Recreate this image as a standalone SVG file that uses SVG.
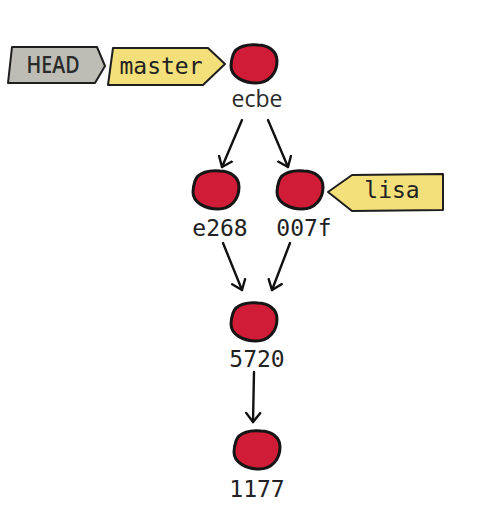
<svg xmlns="http://www.w3.org/2000/svg" xmlns:xlink="http://www.w3.org/1999/xlink" width="482" height="516" viewBox="0 0 482 516">
<style>
.blob{fill:#d01c36;stroke:#151515;stroke-width:3;stroke-linejoin:round}
.tag{stroke:#1e1e1e;stroke-width:2;stroke-linejoin:round}
.ref{fill:#f3e07a}
.head{fill:#bdbdb6}
.mono{font-family:"DejaVu Sans Mono","Liberation Mono",monospace;font-size:23px;fill:#222;text-anchor:middle}
.sans{font-family:"Open Sans","DejaVu Sans",sans-serif;font-size:23px;fill:#2a2a2a;text-anchor:middle}
.edge{fill:none;stroke:#111;stroke-width:2.4;stroke-linecap:round}
</style>
<defs>
<path id="blob" d="M -21,-9 C -18,-18 -6,-20 4,-19 C 14,-19 23,-13 23,-3 C 23,9 15,19 2,19 C -10,19 -23,13 -23,2 C -23,-3 -22,-6 -21,-9 Z"/>
<marker id="arr" markerWidth="20" markerHeight="20" refX="10" refY="10" orient="auto" markerUnits="userSpaceOnUse">
<path d="M1,3 L10,10 L1,17" fill="none" stroke="#111" stroke-width="2.4" stroke-linecap="round" stroke-linejoin="round"/>
</marker>
</defs>
<rect width="482" height="516" fill="#ffffff"/>
<g id="connectors">
<path class="edge" d="M242,120 L222,167" marker-end="url(#arr)"/>
<path class="edge" d="M268,120 L288,167" marker-end="url(#arr)"/>
<path class="edge" d="M223,243 L242,290" marker-end="url(#arr)"/>
<path class="edge" d="M290,243 L272,290" marker-end="url(#arr)"/>
<path class="edge" d="M254,372 L253,422" marker-end="url(#arr)"/>
</g>
<g id="HEAD">
<polygon class="tag head" points="12,47 97,47 105,66 95,83 8,83"/>
<text class="sans" x="53" y="73" font-weight="600" textLength="53" lengthAdjust="spacingAndGlyphs">HEAD</text>
</g>
<g id="master">
<polygon class="tag ref" points="113,48 208,48 225,64 203,85 108,85"/>
<text class="mono" x="161" y="74" font-size="22">master</text>
</g>
<g id="lisa">
<polygon class="tag ref" points="328,192 352,175 443,174 443,210 352,211"/>
<text class="mono" x="392" y="198">lisa</text>
</g>
<g id="ecbe">
<use xlink:href="#blob" href="#blob" class="blob" x="254" y="64"/>
<text class="sans" x="257" y="107">ecbe</text>
</g>
<g id="e268">
<use xlink:href="#blob" href="#blob" class="blob" x="216" y="190"/>
<text class="mono" x="220" y="236">e268</text>
</g>
<g id="n007f">
<use xlink:href="#blob" href="#blob" class="blob" x="300" y="190"/>
<text class="mono" x="304" y="236">007f</text>
</g>
<g id="n5720">
<use xlink:href="#blob" href="#blob" class="blob" x="254" y="322"/>
<text class="mono" x="257" y="367">5720</text>
</g>
<g id="n1177">
<use xlink:href="#blob" href="#blob" class="blob" x="257" y="450"/>
<text class="mono" x="257" y="497">1177</text>
</g>
</svg>
